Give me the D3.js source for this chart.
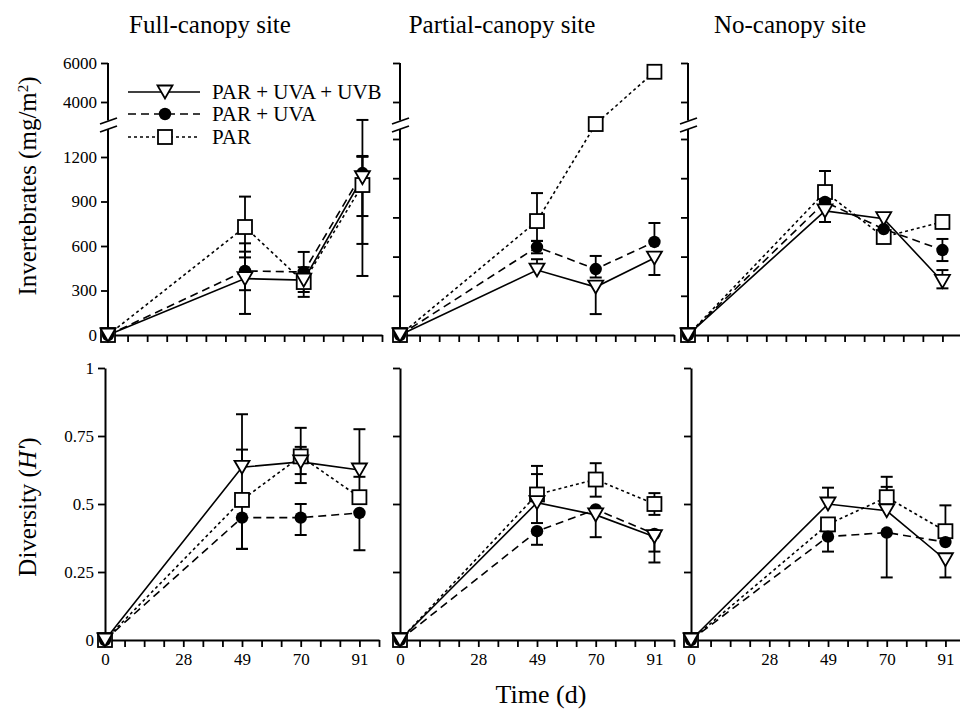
<!DOCTYPE html>
<html>
<head>
<meta charset="utf-8">
<script src="https://cdn.jsdelivr.net/npm/d3@7"></script>
<style>
  body { margin: 0; background: #fff; }
  svg text { font-family: "Liberation Serif", "Times New Roman", serif; fill: #000; }
</style>
</head>
<body>
<svg id="chart" width="960" height="711"></svg>
<script>
// ---- data ----
const days = [0, 49, 70, 91];
const sites = ["Full-canopy site", "Partial-canopy site", "No-canopy site"];
const treatments = ["PAR + UVA + UVB", "PAR + UVA", "PAR"];
const xTicks = d3.range(0, 99, 7);
const xLabels = [0, 28, 49, 70, 91];
const invTicksFull = [0, 300, 600, 900, 1200];
const invTicksOther = [0, 300, 600, 900, 1200, 1500];
const invTicksHigh = [4000, 6000];
const divTicks = [0, 0.25, 0.5, 0.75, 1];

// invertebrates (mg/m2): rows = PAR+UVA+UVB, PAR+UVA, PAR
const invFull = [
  [0, 380, 370, 1060],
  [0, 432, 425, 1092],
  [0, 728, 357, 1011]
];
const invFullErr = [
  [null, [142, 618], [320, 420], [802, 1207]],
  [null, [302, 562], [290, 560], [398, 3080]],
  [null, [523, 933], [257, 457], [614, 1201]]
];
const invPartial = [
  [0, 497, 367, 589],
  [0, 673, 505, 712],
  [0, 872, 2870, 5550]
];
const invPartialErr = [
  [null, [497, 580], [160, 367], [459, 589]],
  [null, [625, 720], [440, 605], [712, 857]],
  [null, [720, 1086], null, null]
];
const invNo = [
  [0, 950, 890, 410],
  [0, 1018, 811, 650],
  [0, 1094, 750, 865]
];
const invNoErr = [
  [null, [865, 950], null, [357, 497]],
  [null, null, null, [566, 735]],
  [null, [1094, 1255], null, null]
];

// diversity (H')
const divFull = [
  [0, 0.635, 0.655, 0.625],
  [0, 0.45, 0.45, 0.467],
  [0, 0.515, 0.675, 0.525]
];
const divFullErr = [
  [null, [0.635, 0.83], [0.577, 0.71], [0.625, 0.775]],
  [null, [0.335, 0.45], [0.386, 0.50], [0.33, 0.467]],
  [null, [0.335, 0.70], [0.61, 0.78], [0.525, 0.60]]
];
const divPartial = [
  [0, 0.505, 0.46, 0.38],
  [0, 0.40, 0.48, 0.39],
  [0, 0.535, 0.59, 0.50]
];
const divPartialErr = [
  [null, [0.43, 0.61], [0.378, 0.46], [0.285, 0.38]],
  [null, [0.35, 0.40], null, [0.325, 0.39]],
  [null, [0.535, 0.64], [0.527, 0.65], [0.46, 0.54]]
];
const divNo = [
  [0, 0.50, 0.475, 0.295],
  [0, 0.38, 0.395, 0.36],
  [0, 0.425, 0.525, 0.40]
];
const divNoErr = [
  [null, [0.50, 0.56], [0.475, 0.563], [0.23, 0.295]],
  [null, [0.325, 0.38], [0.23, 0.395], null],
  [null, null, [0.525, 0.60], [0.40, 0.495]]
];

// ---- layout ----
const svg = d3.select("#chart");
const serif = '"Liberation Serif", "Times New Roman", serif';
const topX0 = [108, 400, 688];
const botX0 = [105, 400, 691];
const topBase = 335, botBase = 640;
const brk = 2000;

const yHigh = d3.scaleLinear().domain([4000, 6000]).range([102, 63]);
const yLowFull = d3.scaleLinear().domain([0, 1200]).range([topBase, 157]);
const yLowOther = d3.scaleLinear().domain([0, 1500]).range([topBase, 139]);
const yDiv = d3.scaleLinear().domain([0, 1]).range([botBase, 368]);

const dashes = [null, "8,5", "3,3"];

function xScale(x0) {
  return d3.scaleLinear().domain([0, 98]).range([x0, x0 + 274]);
}

function marker(g, type, cx, cy) {
  if (type === 0) {
    g.append("path")
      .attr("d", `M${cx - 7.5},${cy - 6.5}L${cx + 7.5},${cy - 6.5}L${cx},${cy + 6.5}Z`)
      .attr("fill", "#fff").attr("stroke", "#000").attr("stroke-width", 1.8);
  } else if (type === 1) {
    g.append("circle").attr("cx", cx).attr("cy", cy).attr("r", 6.2).attr("fill", "#000");
  } else {
    g.append("rect").attr("x", cx - 7).attr("y", cy - 7).attr("width", 14).attr("height", 14)
      .attr("fill", "#fff").attr("stroke", "#000").attr("stroke-width", 1.8);
  }
}

function styleAxis(a, size) {
  a.selectAll("text").attr("font-family", serif).attr("font-size", size).attr("fill", "#000");
  a.selectAll(".tick line").attr("stroke-width", 1.8);
  a.select(".domain").attr("stroke-width", 2);
}

function drawSeries(g, x, y, means, errs) {
  // lines
  means.forEach((m, t) => {
    const line = d3.line().x((d, i) => x(days[i])).y(d => y(d));
    g.append("path").datum(m)
      .attr("d", line)
      .attr("fill", "none").attr("stroke", "#000").attr("stroke-width", 1.6)
      .attr("stroke-dasharray", dashes[t]);
  });
  // error bars
  errs.forEach((row, t) => {
    row.forEach((e, i) => {
      if (!e) return;
      const cx = x(days[i]);
      g.append("line").attr("x1", cx).attr("x2", cx)
        .attr("y1", y(e[0])).attr("y2", y(e[1]))
        .attr("stroke", "#000").attr("stroke-width", 1.8);
      e.forEach(v => {
        if (v === means[t][i]) return;
        g.append("line").attr("x1", cx - 6).attr("x2", cx + 6)
          .attr("y1", y(v)).attr("y2", y(v))
          .attr("stroke", "#000").attr("stroke-width", 2);
      });
    });
  });
  // markers: squares, then circles, then triangles
  [2, 1, 0].forEach(t => {
    means[t].forEach((v, i) => marker(g, t, x(days[i]), y(v)));
  });
}

// ---- top row: invertebrates ----
const invData = [[invFull, invFullErr], [invPartial, invPartialErr], [invNo, invNoErr]];
invData.forEach(([means, errs], c) => {
  const x0 = topX0[c];
  const x = xScale(x0);
  const low = c === 0 ? yLowFull : yLowOther;
  const y = v => v > brk ? yHigh(v) : low(v);
  const g = svg.append("g");

  // x axis
  const ax = g.append("g").attr("transform", `translate(0,${topBase})`)
    .call(d3.axisBottom(x).tickValues(xTicks).tickSize(7).tickSizeOuter(0).tickFormat(""));
  styleAxis(ax, 17);

  // y axis, lower part
  const ayl = g.append("g").attr("transform", `translate(${x0},0)`)
    .call(d3.axisLeft(low).tickValues(c === 0 ? invTicksFull : invTicksOther)
      .tickSize(7).tickPadding(4).tickFormat(c === 0 ? d3.format("d") : ""));
  styleAxis(ayl, 17);
  ayl.select(".domain").remove();
  // y axis, upper part
  const ayh = g.append("g").attr("transform", `translate(${x0},0)`)
    .call(d3.axisLeft(yHigh).tickValues(invTicksHigh)
      .tickSize(7).tickPadding(4).tickFormat(c === 0 ? d3.format("d") : ""));
  styleAxis(ayh, 17);
  ayh.select(".domain").remove();

  g.append("line").attr("x1", x0).attr("x2", x0).attr("y1", topBase).attr("y2", 129)
    .attr("stroke", "#000").attr("stroke-width", 2);
  g.append("line").attr("x1", x0).attr("x2", x0).attr("y1", 120.5).attr("y2", 63)
    .attr("stroke", "#000").attr("stroke-width", 2);
  // break marks
  [[124, 118], [132, 126]].forEach(([ya, yb]) => {
    g.append("line").attr("x1", x0 - 8).attr("x2", x0 + 9).attr("y1", ya).attr("y2", yb)
      .attr("stroke", "#000").attr("stroke-width", 1.8);
  });

  drawSeries(g, x, y, means, errs);

  // site title
  svg.append("text").attr("x", x0 + 102).attr("y", 33)
    .attr("text-anchor", "middle").attr("font-size", 25).text(sites[c]);
});

// ---- bottom row: diversity ----
const divData = [[divFull, divFullErr], [divPartial, divPartialErr], [divNo, divNoErr]];
divData.forEach(([means, errs], c) => {
  const x0 = botX0[c];
  const x = xScale(x0);
  const g = svg.append("g");

  const ax = g.append("g").attr("transform", `translate(0,${botBase})`)
    .call(d3.axisBottom(x).tickValues(xTicks).tickSize(7).tickSizeOuter(0).tickPadding(6)
      .tickFormat(d => xLabels.includes(d) ? d : ""));
  styleAxis(ax, 17);

  const ay = g.append("g").attr("transform", `translate(${x0},0)`)
    .call(d3.axisLeft(yDiv).tickValues(divTicks).tickSize(7).tickSizeOuter(0).tickPadding(4)
      .tickFormat(c === 0 ? d3.format("") : ""));
  styleAxis(ay, 17);

  drawSeries(g, x, yDiv, means, errs);
});

// ---- legend ----
const leg = svg.append("g");
treatments.forEach((name, t) => {
  const ly = [92, 114, 137][t];
  leg.append("line").attr("x1", 128).attr("x2", 200).attr("y1", ly).attr("y2", ly)
    .attr("stroke", "#000").attr("stroke-width", 1.6).attr("stroke-dasharray", dashes[t]);
  marker(leg, t, 165, ly);
  leg.append("text").attr("x", 212).attr("y", ly + 7).attr("font-size", 21).text(name);
});

// ---- axis titles ----
svg.append("text").attr("transform", "translate(36,186) rotate(-90)")
  .attr("text-anchor", "middle").attr("font-size", 25)
  .html('Invertebrates (mg/m<tspan baseline-shift="super" font-size="15">2</tspan>)');
svg.append("text").attr("transform", "translate(36,507) rotate(-90)")
  .attr("text-anchor", "middle").attr("font-size", 25)
  .html('Diversity (<tspan font-style="italic">H\'</tspan>)');
svg.append("text").attr("x", 541).attr("y", 703)
  .attr("text-anchor", "middle").attr("font-size", 26).text("Time (d)");
</script>
</body>
</html>
